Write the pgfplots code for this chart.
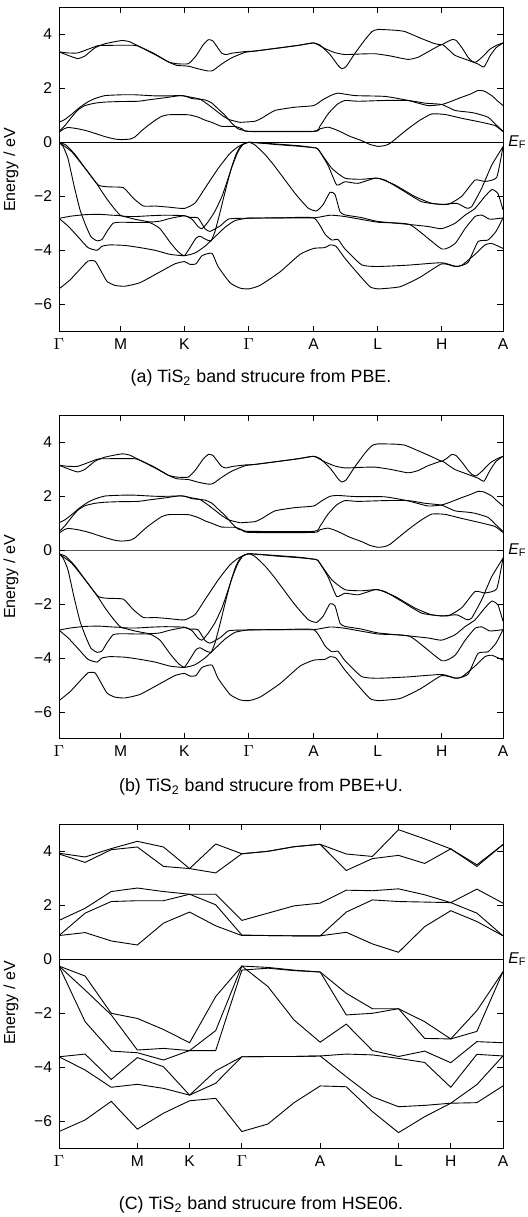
\documentclass[border=0pt]{standalone}
\usepackage{pgfplots}
\usepackage{pgfplotstable}
\pgfplotsset{compat=1.18}
\usepackage{fontspec}
\setmainfont{Liberation Sans}

% ================= panel (a) PBE: x in picture units, energy in eV =================
\pgfplotstableread{
59 3.35
68 3.22
77.7 3.10
85 3.20
95 3.50
105 3.65
121.7 3.77
130 3.72
141.7 3.50
155 3.25
168.3 2.98
176.7 2.91
188.3 2.91
196 3.2
203 3.6
208.3 3.80
213 3.75
221.7 3.30
226.7 3.25
231.7 3.30
245 3.36
255 3.38
280 3.5
300 3.6
313.7 3.68
320 3.6
330 3.25
338 2.85
341.7 2.73
346 2.8
355 3.3
365 3.8
372 4.1
378 4.18
395 4.15
405 4.1
421.7 3.84
435 3.65
441.7 3.62
447 3.72
451.7 3.80
456 3.78
462 3.5
468 3.15
472 3.0
476 2.97
482 3.15
490 3.45
497 3.6
503 3.68
}\aUone
\pgfplotstableread{
59 3.35
68 3.31
77.7 3.31
88.3 3.45
98 3.58
105 3.59
135 3.59
145 3.45
155 3.27
168.3 2.98
176.7 2.85
188.3 2.82
198.3 2.72
208.3 2.64
213 2.66
221.7 2.9
231.7 3.13
245 3.33
255 3.38
280 3.5
300 3.6
313.7 3.68
325 3.47
335 3.32
345 3.25
360 3.27
375 3.28
390 3.2
408 3.07
418 3.15
428 3.35
441.7 3.62
448 3.45
455 3.22
468 3.04
478 2.9
484 2.79
490 3.2
496 3.5
503 3.68
}\aUtwo
\pgfplotstableread{
59 0.37
64 0.50
68.3 0.55
78 0.50
88.3 0.41
105 0.21
115 0.12
121.7 0.10
130 0.12
135 0.2
141.7 0.43
148 0.62
155 0.81
161 0.95
168.3 1.02
188.3 1.02
198.3 0.93
205 0.82
211.7 0.74
221.7 0.59
235 0.59
242 0.50
248.7 0.40
313.7 0.40
320 0.5
328 0.56
335 0.48
341.7 0.37
350 0.22
361.7 0.06
370 -0.08
378 -0.15
385 -0.12
390 -0.04
398 0.2
408 0.5
420 0.82
431.7 1.05
445 1.03
461.7 0.89
481.7 0.74
495 0.62
503 0.40
}\aCone
\pgfplotstableread{
59 0.40
65 0.62
72 0.95
78 1.2
85 1.36
95 1.45
105 1.49
120 1.51
138 1.52
150 1.58
165 1.65
180 1.73
186 1.70
192 1.62
205 1.57
212 1.45
218 1.24
225 1.0
232 0.7
238 0.5
245 0.43
248.7 0.41
313.7 0.41
320 0.6
328 1.05
337 1.4
345 1.55
358 1.52
385 1.55
408 1.55
425 1.45
441.7 1.40
455 1.18
468 1.12
475 1.08
488 0.93
496 0.65
503 0.41
}\aCtwo
\pgfplotstableread{
59 0.74
65 0.85
72 1.05
80 1.3
88 1.5
95 1.62
105 1.73
121.7 1.76
135 1.76
155 1.72
168 1.72
182 1.73
192 1.66
200 1.6
208 1.4
215 1.2
222 1.0
228 0.86
232 0.81
240 0.74
245 0.75
255 0.78
262 0.9
275 1.18
295 1.3
313.7 1.36
321.7 1.55
330 1.72
338 1.82
355 1.73
385 1.70
408 1.55
428 1.36
441.7 1.40
450 1.5
461.7 1.67
470 1.78
478 1.92
484 1.90
491.7 1.73
497 1.55
503 1.36
}\aCthree
\pgfplotstableread{
59 0
71.7 -0.35
85 -0.96
98.3 -1.58
108.3 -1.65
123.3 -1.68
133.3 -2.07
143.3 -2.36
155 -2.36
168.3 -2.40
184.3 -2.45
195 -2.25
205 -1.70
218.3 -0.96
230 -0.41
238.3 -0.16
248.7 0
275 -0.08
300 -0.15
313.7 -0.2
318 -0.25
328 -0.85
336.7 -1.58
345 -1.46
358 -1.52
375 -1.33
385 -1.4
401.7 -1.76
421.7 -2.2
441.7 -2.3
456.7 -2.26
466.7 -2.44
471.7 -2.38
481.7 -1.7
491.7 -0.85
503 -0.16
}\aVone
\pgfplotstableread{
59 0
66 -0.1
75 -0.45
84 -0.9
97 -1.55
105 -2.0
112 -2.35
121 -2.72
135 -2.75
150 -2.72
165 -2.7
184.3 -2.72
192 -2.85
198 -3.12
202 -3.2
208 -2.95
215 -2.55
222 -2.0
228 -1.35
233 -0.8
238 -0.35
243 -0.08
248.7 0
275 -0.06
300 -0.13
313.7 -0.2
318 -0.25
331.7 -0.96
345 -1.33
361.7 -1.37
378 -1.33
395 -1.58
415 -2.01
431.7 -2.26
448 -2.3
461.7 -2.0
475 -1.4
485 -1.45
496.7 -1.3
503 -0.16
}\aVtwo
\pgfplotstableread{
59 0
63 -0.15
68 -0.6
74 -1.6
80 -2.5
86 -3.1
91 -3.5
97 -3.65
102 -3.6
107 -3.3
113 -3.0
120 -2.96
135 -2.97
150 -2.98
160 -3.2
170 -3.7
178 -4.05
184.3 -4.2
190 -3.9
196 -3.55
200 -3.48
206 -3.6
211 -3.65
215 -3.3
220 -2.6
226 -1.7
231 -1.0
236 -0.45
241 -0.12
248.7 0
255 -0.1
265 -0.45
275 -0.9
295 -1.89
308.3 -2.44
316.7 -2.54
323.3 -2.3
330 -1.85
335 -1.93
340 -2.57
345 -2.69
361.7 -2.79
377.7 -2.93
408.3 -3.04
428.3 -3.12
441.7 -3.2
455 -3.0
465 -2.7
475 -2.45
485 -2.0
492 -1.75
498 -1.9
503 -2.5
}\aVthree
\pgfplotstableread{
59 -2.82
70 -2.74
85 -2.68
100 -2.67
112 -2.70
121 -2.72
135 -2.85
150 -2.95
160 -2.92
170 -2.82
184.3 -2.72
190 -2.78
198 -2.8
205 -3.2
210 -3.3
220 -3.1
228 -2.85
235 -2.82
248.7 -2.81
280 -2.8
313.7 -2.8
330 -2.7
345 -2.75
377.7 -2.96
410 -3.05
441.7 -3.95
455 -3.75
465 -3.2
475 -2.75
482 -2.7
490 -2.85
503 -2.8
}\aVfour
\pgfplotstableread{
59 -2.82
68 -3.1
78 -3.5
88 -3.9
97 -4.0
102 -3.85
110 -3.8
125 -3.82
140 -3.9
155 -4.0
170 -4.15
184.3 -4.2
195 -4.1
205 -3.85
215 -3.5
225 -3.15
235 -2.9
248.7 -2.81
280 -2.8
313.7 -2.8
325 -3.4
331.7 -3.62
338 -3.6
345 -3.95
361.7 -4.54
377.7 -4.6
408 -4.55
441.7 -4.46
456.7 -4.6
468 -4.45
478 -3.68
488 -3.62
496 -3.3
503 -2.8
}\aVfive
\pgfplotstableread{
59 -5.43
70 -5.1
80 -4.7
88 -4.4
95 -4.4
100 -4.7
107 -5.15
115 -5.3
125 -5.33
140 -5.2
160 -4.8
175 -4.5
184.3 -4.42
190 -4.52
196 -4.5
202 -4.2
212 -4.11
218 -4.6
230 -5.2
240 -5.4
248.7 -5.43
260 -5.3
280 -4.8
300 -4.15
313.7 -3.93
325 -3.9
330 -3.8
336 -3.85
345 -4.3
360 -4.95
370 -5.35
378 -5.43
400 -5.35
420 -5.0
441.7 -4.5
455 -4.6
462 -4.55
475 -4.15
485 -3.8
492 -3.75
503 -3.93
}\aVsix

% ================= panel (b) PBE+U =================
\pgfplotstableread{
59 3.14
68 3.01
77.7 2.89
85 2.99
95 3.29
105 3.44
121.7 3.56
130 3.51
141.7 3.29
155 3.04
168.3 2.77
176.7 2.70
188.3 2.70
196 2.99
203 3.36
208.3 3.54
213 3.50
221.7 3.09
226.7 3.04
231.7 3.09
245 3.15
255 3.17
280 3.29
300 3.39
313.7 3.47
320 3.39
330 3.04
338 2.64
341.7 2.52
346 2.59
355 3.09
365 3.59
372 3.87
378 3.93
395 3.92
405 3.88
421.7 3.62
435 3.40
441.7 3.29
447 3.40
451.7 3.54
456 3.50
462 3.25
468 2.95
472 2.80
476 2.74
482 2.92
490 3.22
497 3.38
503 3.47
}\bUone
\pgfplotstableread{
59 3.14
68 3.10
77.7 3.10
88.3 3.24
98 3.37
105 3.38
135 3.38
145 3.24
155 3.06
168.3 2.77
176.7 2.64
188.3 2.61
198.3 2.51
208.3 2.44
213 2.46
221.7 2.69
231.7 2.92
245 3.12
255 3.17
280 3.29
300 3.39
313.7 3.47
325 3.26
335 3.11
345 3.04
360 3.06
375 3.07
390 2.99
408 2.86
418 2.94
428 3.12
441.7 3.29
448 3.15
455 2.98
468 2.80
478 2.66
484 2.55
490 2.95
496 3.28
503 3.47
}\bUtwo
\pgfplotstableread{
59 0.62
64 0.75
68.3 0.80
78 0.75
88.3 0.66
105 0.46
115 0.36
121.7 0.33
130 0.36
135 0.45
141.7 0.68
148 0.88
155 1.07
161 1.22
168.3 1.31
188.3 1.31
198.3 1.20
205 1.08
211.7 0.99
221.7 0.85
235 0.84
242 0.75
248.7 0.65
313.7 0.65
320 0.75
328 0.81
335 0.73
341.7 0.62
350 0.47
361.7 0.31
370 0.17
378 0.10
385 0.13
390 0.21
398 0.45
408 0.75
420 1.08
431.7 1.33
445 1.32
461.7 1.17
481.7 1.00
495 0.87
503 0.65
}\bCone
\pgfplotstableread{
59 0.68
65 0.90
72 1.23
78 1.48
85 1.64
95 1.73
105 1.77
120 1.79
138 1.80
150 1.86
165 1.93
180 2.01
186 1.98
192 1.90
205 1.85
212 1.73
218 1.52
225 1.28
232 0.98
238 0.78
245 0.71
248.7 0.69
313.7 0.69
320 0.88
328 1.33
337 1.68
345 1.83
358 1.80
385 1.83
408 1.83
425 1.73
441.7 1.66
455 1.45
468 1.40
475 1.36
488 1.21
496 0.93
503 0.69
}\bCtwo
\pgfplotstableread{
59 1.01
65 1.12
72 1.32
80 1.57
88 1.77
95 1.89
105 2.00
121.7 2.03
135 2.03
155 1.99
168 1.99
182 2.00
192 1.93
200 1.87
208 1.67
215 1.47
222 1.27
228 1.13
232 1.08
240 1.01
245 1.02
255 1.05
262 1.17
275 1.45
295 1.57
313.7 1.63
321.7 1.82
330 1.99
338 2.02
355 1.98
385 1.97
408 1.82
428 1.63
441.7 1.67
450 1.77
461.7 1.94
470 2.05
478 2.17
484 2.15
491.7 2.00
497 1.82
503 1.63
}\bCthree
\pgfplotstableread{
59 -0.14
71.7 -0.49
85 -1.10
98.3 -1.72
108.3 -1.79
123.3 -1.82
133.3 -2.21
143.3 -2.50
155 -2.50
168.3 -2.54
184.3 -2.59
195 -2.39
205 -1.84
218.3 -1.10
230 -0.55
238.3 -0.30
248.7 -0.14
275 -0.22
300 -0.29
313.7 -0.34
318 -0.39
328 -0.99
336.7 -1.72
345 -1.60
358 -1.66
375 -1.47
385 -1.54
401.7 -1.90
421.7 -2.34
441.7 -2.44
456.7 -2.40
466.7 -2.58
471.7 -2.52
481.7 -1.84
491.7 -0.99
503 -0.30
}\bVone
\pgfplotstableread{
59 -0.14
66 -0.24
75 -0.59
84 -1.04
97 -1.69
105 -2.14
112 -2.49
121 -2.86
135 -2.89
150 -2.86
165 -2.84
184.3 -2.86
192 -2.99
198 -3.26
202 -3.34
208 -3.09
215 -2.69
222 -2.14
228 -1.49
233 -0.94
238 -0.49
243 -0.22
248.7 -0.14
275 -0.20
300 -0.27
313.7 -0.34
318 -0.39
331.7 -1.10
345 -1.47
361.7 -1.51
378 -1.47
395 -1.72
415 -2.15
431.7 -2.40
448 -2.44
461.7 -2.14
475 -1.54
485 -1.59
496.7 -1.44
503 -0.30
}\bVtwo
\pgfplotstableread{
59 -0.14
63 -0.29
68 -0.74
74 -1.74
80 -2.64
86 -3.24
91 -3.64
97 -3.79
102 -3.74
107 -3.44
113 -3.14
120 -3.10
135 -3.11
150 -3.12
160 -3.34
170 -3.84
178 -4.19
184.3 -4.34
190 -4.04
196 -3.69
200 -3.62
206 -3.74
211 -3.79
215 -3.44
220 -2.74
226 -1.84
231 -1.14
236 -0.59
241 -0.26
248.7 -0.14
255 -0.24
265 -0.59
275 -1.04
295 -2.03
308.3 -2.58
316.7 -2.68
323.3 -2.44
330 -1.99
335 -2.07
340 -2.71
345 -2.83
361.7 -2.93
377.7 -3.07
408.3 -3.18
428.3 -3.26
441.7 -3.34
455 -3.14
465 -2.84
475 -2.59
485 -2.14
492 -1.89
498 -2.04
503 -2.64
}\bVthree
\pgfplotstableread{
59 -2.97
70 -2.89
85 -2.83
100 -2.82
112 -2.85
121 -2.87
135 -3.00
150 -3.10
160 -3.07
170 -2.97
184.3 -2.87
190 -2.93
198 -2.95
205 -3.35
210 -3.45
220 -3.25
228 -3.00
235 -2.97
248.7 -2.96
280 -2.95
313.7 -2.95
330 -2.85
345 -2.90
377.7 -3.11
410 -3.20
441.7 -4.10
455 -3.90
465 -3.35
475 -2.90
482 -2.85
490 -3.00
503 -2.95
}\bVfour
\pgfplotstableread{
59 -2.97
68 -3.25
78 -3.65
88 -4.05
97 -4.15
102 -4.00
110 -3.95
125 -3.97
140 -4.05
155 -4.15
170 -4.30
184.3 -4.35
195 -4.25
205 -4.00
215 -3.65
225 -3.30
235 -3.05
248.7 -2.96
280 -2.95
313.7 -2.95
325 -3.55
331.7 -3.77
338 -3.75
345 -4.10
361.7 -4.69
377.7 -4.75
408 -4.70
441.7 -4.61
456.7 -4.75
468 -4.60
478 -3.83
488 -3.77
496 -3.45
503 -2.95
}\bVfive
\pgfplotstableread{
59 -5.58
70 -5.25
80 -4.85
88 -4.55
95 -4.55
100 -4.85
107 -5.30
115 -5.45
125 -5.48
140 -5.35
160 -4.95
175 -4.65
184.3 -4.57
190 -4.67
196 -4.65
202 -4.35
212 -4.26
218 -4.75
230 -5.35
240 -5.55
248.7 -5.58
260 -5.45
280 -4.95
300 -4.30
313.7 -4.08
325 -4.05
330 -3.95
336 -4.00
345 -4.45
360 -5.10
370 -5.50
378 -5.58
400 -5.50
420 -5.15
441.7 -4.65
455 -4.75
462 -4.70
475 -4.30
485 -3.95
492 -3.90
503 -4.08
}\bVsix

% ================= panel (c) HSE06: x = k-point index 0..17 =================
\pgfplotstableread{
0 3.93
1 3.79
2 4.10
3 4.37
4 4.16
5 3.36
6 4.27
7 3.91
8 4.00
9 4.17
10 4.26
11 3.90
12 3.81
13 4.80
14 4.46
15 4.09
16 3.50
17 4.25
}\cUone
\pgfplotstableread{
0 3.90
1 3.59
2 4.06
3 4.16
4 3.44
5 3.36
6 3.20
7 3.91
8 4.00
9 4.17
10 4.26
11 3.29
12 3.73
13 3.85
14 3.55
15 4.09
16 3.44
17 4.25
}\cUtwo
\pgfplotstableread{
0 1.44
1 1.89
2 2.51
3 2.64
4 2.51
5 2.41
6 2.41
7 1.44
8 1.71
9 1.98
10 2.08
11 2.56
12 2.54
13 2.61
14 2.39
15 2.10
16 1.71
17 0.87
}\cCone
\pgfplotstableread{
0 0.88
1 1.71
2 2.14
3 2.17
4 2.17
5 2.41
6 2.02
7 0.90
8 0.88
9 0.87
10 0.87
11 1.75
12 2.20
13 2.14
14 2.12
15 2.10
16 2.60
17 2.08
}\cCtwo
\pgfplotstableread{
0 0.88
1 0.99
2 0.68
3 0.53
4 1.34
5 1.75
6 1.24
7 0.88
8 0.88
9 0.87
10 0.87
11 1.00
12 0.57
13 0.26
14 1.21
15 1.80
16 1.40
17 0.87
}\cCthree
\pgfplotstableread{
0 -0.25
1 -0.62
2 -2.00
3 -2.19
4 -2.60
5 -3.09
6 -1.38
7 -0.25
8 -0.30
9 -0.40
10 -0.47
11 -1.26
12 -1.83
13 -1.83
14 -2.31
15 -2.95
16 -1.90
17 -0.46
}\cVone
\pgfplotstableread{
0 -0.25
1 -1.14
2 -2.06
3 -3.36
4 -3.30
5 -3.38
6 -3.38
7 -0.40
8 -0.33
9 -0.42
10 -0.47
11 -2.06
12 -2.00
13 -1.83
14 -2.93
15 -2.95
16 -2.67
17 -0.46
}\cVtwo
\pgfplotstableread{
0 -0.25
1 -2.31
2 -3.40
3 -3.46
4 -3.73
5 -3.38
6 -2.64
7 -0.25
8 -1.01
9 -2.25
10 -3.07
11 -2.40
12 -3.38
13 -3.60
14 -3.40
15 -3.83
16 -3.05
17 -3.09
}\cVthree
\pgfplotstableread{
0 -3.61
1 -3.51
2 -4.45
3 -3.64
4 -3.98
5 -5.03
6 -4.59
7 -3.61
8 -3.60
9 -3.60
10 -3.58
11 -3.51
12 -3.54
13 -3.67
14 -3.82
15 -4.74
16 -3.52
17 -3.58
}\cVfour
\pgfplotstableread{
0 -3.61
1 -4.10
2 -4.74
3 -4.63
4 -4.78
5 -5.03
6 -4.13
7 -3.61
8 -3.60
9 -3.60
10 -3.58
11 -4.35
12 -5.09
13 -5.46
14 -5.41
15 -5.33
16 -4.64
17 -3.58
}\cVfive
\pgfplotstableread{
0 -6.38
1 -5.95
2 -5.26
3 -6.29
4 -5.70
5 -5.24
6 -5.15
7 -6.38
8 -6.10
9 -5.31
10 -4.69
11 -4.72
12 -5.64
13 -6.42
14 -5.83
15 -5.33
16 -5.31
17 -4.69
}\cVsix

\pgfplotsset{
  bandaxis/.style={
    width=222pt, height=162pt, scale only axis,
    ymin=-7, ymax=5,
    ytick={-6,-4,-2,0,2,4},
    yticklabels={−6,−4,−2,0,2,4},
    xtick pos=both, ytick pos=both,
    xticklabel pos=lower, yticklabel pos=left,
    tick align=inside,
    major tick length=2.8pt,
    every tick/.style={black, line width=0.4pt},
    axis line style={black, line width=0.5pt},
    tick label style={font=\fontsize{7.8}{9}\selectfont},
    clip mode=individual,
    cycle list={{black}},
    every axis plot post/.append style={black, solid, mark=none, line width=0.45pt},
  },
  abpath/.style={
    xmin=59, xmax=503,
    xtick={59,120.7,184.3,248.7,313.7,377.7,441.7,503},
    xticklabels={$\Gamma$,M,K,$\Gamma$,A,L,H,A},
    every axis plot post/.append style={smooth, tension=0.3},
  },
}
\newcommand{\EF}{{\fontsize{7.8}{9}\selectfont\itshape E\textsubscript{\upshape F}}}

\begin{document}
\begin{tikzpicture}
\path[use as bounding box] (0pt,0pt) rectangle (263.5pt,-608.5pt);

% ---------------- (a) PBE ----------------
\begin{axis}[bandaxis, abpath, at={(29.5pt,-3.65pt)}, anchor=north west]
\addplot coordinates {(59,0) (503,0)};
\addplot table {\aUone};
\addplot table {\aUtwo};
\addplot table {\aCone};
\addplot table {\aCtwo};
\addplot table {\aCthree};
\addplot table {\aVone};
\addplot table {\aVtwo};
\addplot table {\aVthree};
\addplot table {\aVfour};
\addplot table {\aVfive};
\addplot table {\aVsix};
\node[anchor=west, inner sep=0pt, xshift=2.5pt] at (axis cs:503,0) {\EF};
\end{axis}
\node[rotate=90, font=\fontsize{8}{9}\selectfont] at (5.5pt,-85pt) {Energy / eV};
\node[font=\fontsize{8.9}{10}\selectfont] at (130.5pt,-189pt) {(a) TiS\textsubscript{2} band strucure from PBE.};

% ---------------- (b) PBE+U ----------------
\begin{axis}[bandaxis, abpath, at={(29.5pt,-207.5pt)}, anchor=north west]
\addplot coordinates {(59,0) (503,0)};
\addplot table {\bUone};
\addplot table {\bUtwo};
\addplot table {\bCone};
\addplot table {\bCtwo};
\addplot table {\bCthree};
\addplot table {\bVone};
\addplot table {\bVtwo};
\addplot table {\bVthree};
\addplot table {\bVfour};
\addplot table {\bVfive};
\addplot table {\bVsix};
\node[anchor=west, inner sep=0pt, xshift=2.5pt] at (axis cs:503,0) {\EF};
\end{axis}
\node[rotate=90, font=\fontsize{8}{9}\selectfont] at (5.5pt,-288.5pt) {Energy / eV};
\node[font=\fontsize{8.9}{10}\selectfont] at (130.5pt,-393.5pt) {(b) TiS\textsubscript{2} band strucure from PBE+U.};

% ---------------- (c) HSE06 ----------------
\begin{axis}[bandaxis, at={(29.5pt,-412.15pt)}, anchor=north west,
  xmin=0, xmax=17, xtick={0,3,5,7,10,13,15,17},
  xticklabels={$\Gamma$,M,K,$\Gamma$,A,L,H,A}]
\addplot coordinates {(0,0) (17,0)};
\addplot table {\cUone};
\addplot table {\cUtwo};
\addplot table {\cCone};
\addplot table {\cCtwo};
\addplot table {\cCthree};
\addplot table {\cVone};
\addplot table {\cVtwo};
\addplot table {\cVthree};
\addplot table {\cVfour};
\addplot table {\cVfive};
\addplot table {\cVsix};
\node[anchor=west, inner sep=0pt, xshift=2.5pt] at (axis cs:17,0) {\EF};
\end{axis}
\node[rotate=90, font=\fontsize{8}{9}\selectfont] at (5.5pt,-501.5pt) {Energy / eV};
\node[font=\fontsize{8.9}{10}\selectfont] at (130.5pt,-602.5pt) {(C) TiS\textsubscript{2} band strucure from HSE06.};
\end{tikzpicture}
\end{document}
